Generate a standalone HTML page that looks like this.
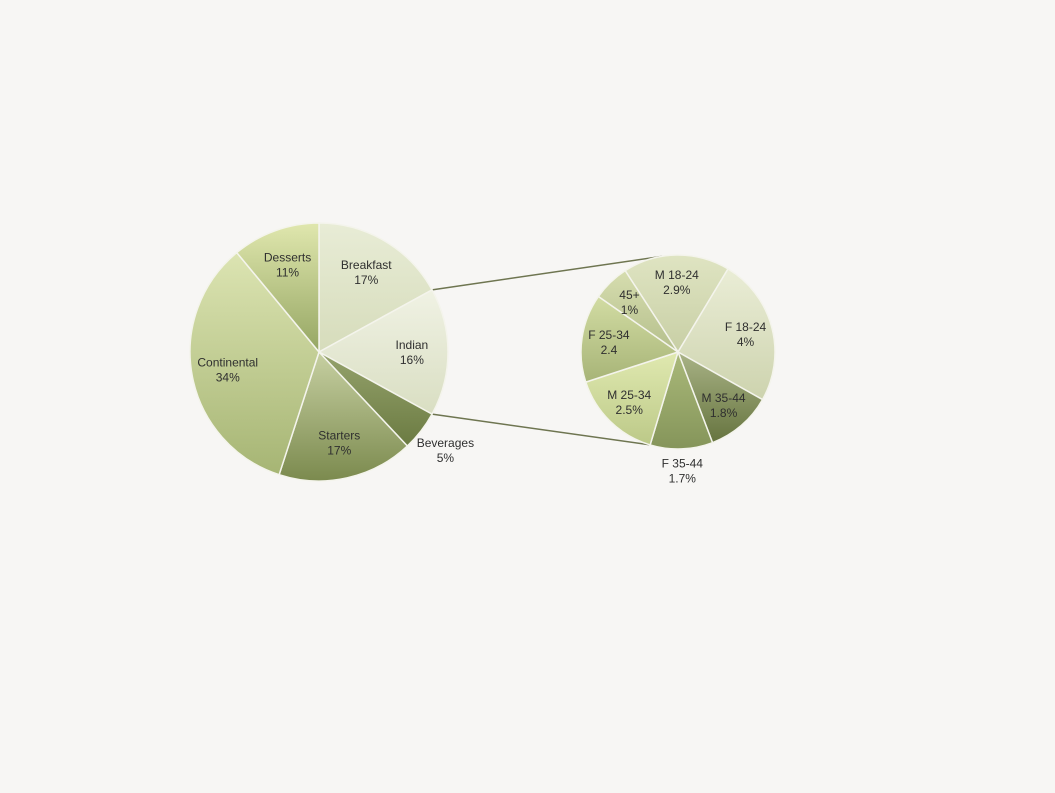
<!DOCTYPE html>
<html><head><meta charset="utf-8">
<style>
html,body{margin:0;padding:0;background:#f7f6f4;}
svg{display:block;}
text{font-family:"Liberation Sans",sans-serif;font-size:12px;fill:#2f2f2f;}
</style></head>
<body>
<svg id="chart" width="1055" height="793" viewBox="0 0 1055 793" xmlns="http://www.w3.org/2000/svg">
<defs id="defs"></defs>
<rect x="0" y="0" width="1055" height="793" fill="#f7f6f4"/>
<g id="lines"></g>
<g id="main"></g>
<g id="sub"></g>
</svg>
<script>
const mainCats = ["Breakfast","Indian","Beverages","Starters","Continental","Desserts"];
const mainVals = [17,16,5,17,34,11];
const mainLabels = ["17%","16%","5%","17%","34%","11%"];
const subCats = ["M 18-24","F 18-24","M 35-44","F 35-44","M 25-34","F 25-34","45+"];
const subVals = [2.9,4,1.8,1.7,2.5,2.4,1];
const subLabels = ["2.9%","4%","1.8%","1.7%","2.5%","2.4","1%"];

const mainColors=[["#e8ecd6","#d6dcbb"],["#f0f2e4","#d9dec2"],["#95a26c","#6b7b42"],["#c7d0a2","#7b8a4e"],["#dce4b2","#a6b574"],["#e0e7ae","#95a663"]];
const subColors=[["#dfe4c2","#c8cfa5"],["#eaedd6","#cdd3ae"],["#a9b386","#66743f"],["#aab97a","#85955a"],["#e0e9b0","#bcc988"],["#d2dca3","#a7b477"],["#d6ddaf","#b5bf8c"]];

const NS="http://www.w3.org/2000/svg";
const defs=document.getElementById('defs');
function pt(cx,cy,r,a){const t=a*Math.PI/180;return [cx+r*Math.sin(t),cy-r*Math.cos(t)];}
function grad(id,c){
  const g=document.createElementNS(NS,'linearGradient');
  g.setAttribute('id',id);g.setAttribute('x1','0');g.setAttribute('y1','0');g.setAttribute('x2','0');g.setAttribute('y2','1');
  c.forEach((col,i)=>{const s=document.createElementNS(NS,'stop');s.setAttribute('offset',i?'1':'0');s.setAttribute('stop-color',col);g.appendChild(s);});
  defs.appendChild(g);
}
function drawPie(gid,cats,vals,labels,colors,cx,cy,r,start,lr,outIdx,outR,prefix){
  const g=document.getElementById(gid);
  const total=vals.reduce((a,b)=>a+b,0);
  let a=start; const bounds=[];
  vals.forEach((v,i)=>{
    const sweep=v/total*360, a2=a+sweep;
    const p1=pt(cx,cy,r,a),p2=pt(cx,cy,r,a2);
    grad(prefix+i,colors[i]);
    const path=document.createElementNS(NS,'path');
    path.setAttribute('d',`M${cx},${cy} L${p1[0]},${p1[1]} A${r},${r} 0 ${sweep>180?1:0} 1 ${p2[0]},${p2[1]} Z`);
    path.setAttribute('fill',`url(#${prefix}${i})`);
    path.setAttribute('stroke','#f4f4ec');path.setAttribute('stroke-width','1.5');
    
    
    g.appendChild(path);
    const mid=(a+a2)/2, lp=pt(cx,cy,(i===outIdx?outR:lr)*r,mid);
    const t=document.createElementNS(NS,'text');
    t.setAttribute('x',lp[0]);t.setAttribute('y',lp[1]-3);t.setAttribute('text-anchor','middle');
    
    
    const s1=document.createElementNS(NS,'tspan');s1.setAttribute('x',lp[0]);s1.textContent=cats[i];
    const s2=document.createElementNS(NS,'tspan');s2.setAttribute('x',lp[0]);s2.setAttribute('dy','15');s2.textContent=labels[i];
    t.appendChild(s1);t.appendChild(s2);g.appendChild(t);
    bounds.push([a,a2]);a=a2;
  });
  return bounds;
}
const mb=drawPie('main',mainCats,mainVals,mainLabels,mainColors,319,352,129,0,0.72,2,1.24,'main');
drawPie('sub',subCats,subVals,subLabels,subColors,678,352,97,-33,0.72,3,1.22,'sub');
const lg=document.getElementById('lines');
const top1=pt(319,352,129,mb[1][0]), bot1=pt(319,352,129,mb[1][1]);
const top2=pt(678,352,97,-9), bot2=pt(678,352,97,-163);
[[top1,top2,'connector-top'],[bot1,bot2,'connector-bottom']].forEach(([p,q,n])=>{
  const l=document.createElementNS(NS,'line');
  l.setAttribute('x1',p[0]);l.setAttribute('y1',p[1]);l.setAttribute('x2',q[0]);l.setAttribute('y2',q[1]);
  l.setAttribute('stroke','#6e7550');l.setAttribute('stroke-width','1.5');
  
  
  lg.appendChild(l);
});
</script>
</body></html>
